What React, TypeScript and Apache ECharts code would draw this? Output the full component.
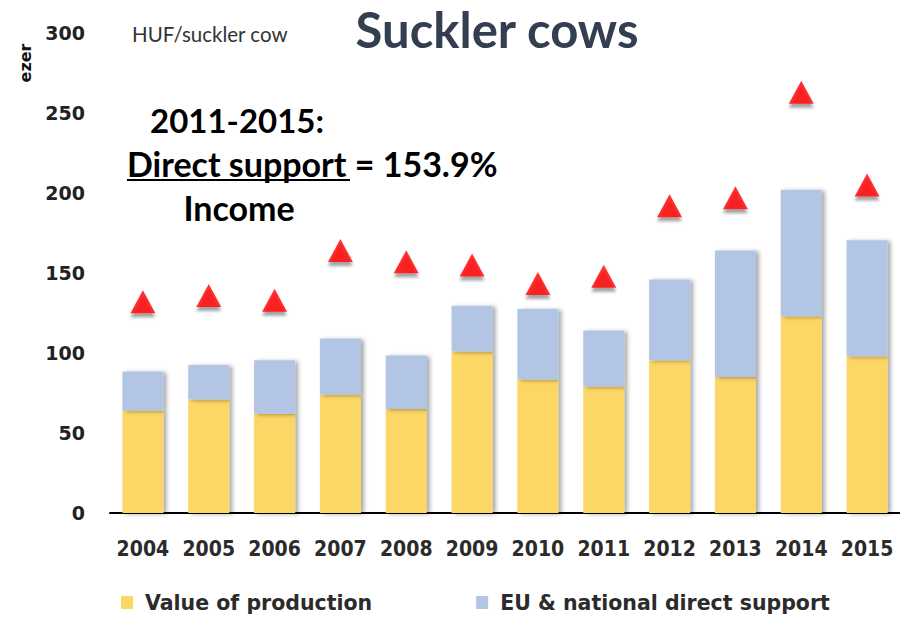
import React, { useEffect, useRef } from "react";
import * as echarts from "echarts";

const years = ["2004", "2005", "2006", "2007", "2008", "2009", "2010", "2011", "2012", "2013", "2014", "2015"];
const production = [64, 71, 62, 74, 65, 101, 83.5, 79, 95.5, 85, 123, 98];
const directSupport = [24.5, 21.5, 33.5, 35, 33.5, 28.5, 44, 35, 50.5, 79, 79, 72.5];
const income = [132, 136, 133, 164, 157, 155, 143.5, 148, 192, 197, 263, 205];
const yTicks = { min: 0, max: 300, interval: 50 };

const LABEL_FONT = "'DejaVu Sans', Verdana, sans-serif";
const COND_FONT = "'DejaVu Sans Condensed', 'DejaVu Sans', sans-serif";
const TEXT_FONT = "Lato, 'Open Sans', sans-serif";

export default function App() {
  const ref = useRef<HTMLDivElement>(null);
  useEffect(() => {
    if (!ref.current) return;
    const chart = echarts.init(ref.current, undefined, { renderer: "svg" });
    const barShadow = {
      shadowColor: "rgba(0,0,0,0.35)",
      shadowBlur: 4,
      shadowOffsetX: 3,
      shadowOffsetY: 1,
    };
    chart.setOption({
      animation: false,
      backgroundColor: "#ffffff",
      grid: { left: 110, top: 33, width: 792, height: 480, containLabel: false },
      legend: {
        left: 121,
        top: 592,
        padding: 0,
        itemWidth: 12,
        itemHeight: 13,
        itemGap: 104,
        icon: "rect",
        data: ["Value of production", "EU & national direct support"],
        formatter: (n: string) => "{t|" + n + "}",
        textStyle: {
          rich: {
            t: {
              fontFamily: LABEL_FONT,
              fontWeight: "bold",
              fontSize: 20.5,
              lineHeight: 24,
              color: "#2b2b2b",
              padding: [0, 0, 0, 7],
            },
          },
        },
      },
      xAxis: {
        type: "category",
        data: years,
        axisLine: { lineStyle: { color: "#000", width: 2 } },
        axisTick: { length: 7, lineStyle: { color: "#000", width: 2 } },
        axisLabel: {
          interval: 0,
          margin: 25,
          fontFamily: COND_FONT,
          fontWeight: "bold",
          fontSize: 21,
          color: "#2b2b2b",
        },
      },
      yAxis: {
        type: "value",
        min: yTicks.min,
        max: yTicks.max,
        interval: yTicks.interval,
        splitLine: { show: false },
        axisLine: { show: false },
        axisTick: { show: false },
        axisLabel: {
          margin: 25,
          fontFamily: LABEL_FONT,
          fontWeight: "bold",
          fontSize: 19,
          color: "#222222",
        },
      },
      series: [
        {
          name: "Value of production",
          type: "bar",
          stack: "total",
          barWidth: 41,
          data: production,
          itemStyle: { color: "#FDD766", ...barShadow },
        },
        {
          name: "EU & national direct support",
          type: "bar",
          stack: "total",
          barWidth: 41,
          data: directSupport,
          itemStyle: { color: "#B2C5E5", ...barShadow },
        },
        {
          name: "Income",
          type: "scatter",
          symbol: "triangle",
          symbolSize: [25, 23],
          data: income,
          itemStyle: {
            color: "#FF0000",
            shadowColor: "rgba(0,0,0,0.45)",
            shadowBlur: 3,
            shadowOffsetY: 4,
          },
          z: 5,
        },
      ],
      graphic: [
        {
          type: "text",
          x: 497,
          y: 29,
          style: {
            text: "Suckler cows",
            fontFamily: TEXT_FONT,
            fontWeight: "bold",
            fontSize: 49,
            lineHeight: 40,
            fill: "#333F50",
            align: "center",
            verticalAlign: "middle",
          },
        },
        {
          type: "text",
          left: 132,
          top: 23,
          style: {
            text: "HUF/suckler cow",
            fontFamily: TEXT_FONT,
            fontSize: 20.5,
            fill: "#333333",
          },
        },
        {
          type: "text",
          x: 25,
          y: 63,
          rotation: Math.PI / 2,
          style: {
            text: "ezer",
            fontFamily: LABEL_FONT,
            fontWeight: "bold",
            fontSize: 16,
            fill: "#111111",
            align: "center",
            verticalAlign: "middle",
          },
        },
        {
          type: "text",
          x: 237,
          y: 120,
          style: {
            text: "2011-2015:",
            fontFamily: TEXT_FONT,
            fontWeight: "bold",
            fontSize: 33,
            fill: "#000000",
            align: "center",
            verticalAlign: "middle",
          },
        },
        {
          type: "text",
          x: 127,
          y: 163,
          style: {
            text: "Direct support = 153.9%",
            fontFamily: TEXT_FONT,
            fontWeight: "bold",
            fontSize: 34,
            fill: "#000000",
            align: "left",
            verticalAlign: "middle",
          },
        },
        {
          type: "line",
          shape: { x1: 127, y1: 180, x2: 350, y2: 180 },
          style: { stroke: "#000000", lineWidth: 2 },
        },
        {
          type: "text",
          x: 239,
          y: 207,
          style: {
            text: "Income",
            fontFamily: TEXT_FONT,
            fontWeight: "bold",
            fontSize: 34,
            fill: "#000000",
            align: "center",
            verticalAlign: "middle",
          },
        },
      ],
    });
    return () => chart.dispose();
  }, []);
  return <div ref={ref} style={{ width: 900, height: 619, position: "absolute", left: 0, top: 0 }} />;
}
